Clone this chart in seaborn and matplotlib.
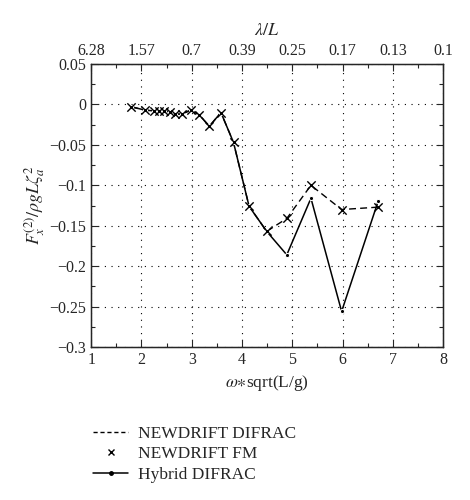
import numpy as np
import pandas as pd
import matplotlib
matplotlib.use("Agg")
import matplotlib.pyplot as plt
import seaborn as sns
from matplotlib.ticker import MultipleLocator
from matplotlib.lines import Line2D

# data
omega_common = [1.80, 2.07, 2.24, 2.34, 2.44, 2.56, 2.67, 2.80, 2.98, 3.15, 3.35, 3.58, 3.83, 4.14, 4.49]
force_common = [-0.003, -0.007, -0.008, -0.008, -0.008, -0.009, -0.012, -0.012, -0.007, -0.013, -0.027, -0.010, -0.047, -0.126, -0.157]

omega_tail = [4.89, 5.37, 5.98, 6.71]
newdrift_tail = [-0.141, -0.100, -0.130, -0.127]
hybrid_tail = [-0.186, -0.116, -0.256, -0.119]

top_ticks = [1, 2, 3, 4, 5, 6, 7, 8]
top_labels = ["6.28", "1.57", "0.7", "0.39", "0.25", "0.17", "0.13", "0.1"]

newdrift = pd.DataFrame({"omega": omega_common + omega_tail,
                         "F": force_common + newdrift_tail})
hybrid = pd.DataFrame({"omega": omega_common + omega_tail,
                       "F": force_common + hybrid_tail})

sns.set_theme(style="ticks")
plt.rcParams["font.family"] = ["Liberation Serif", "DejaVu Serif"]
plt.rcParams["mathtext.fontset"] = "stix"
plt.rcParams["font.size"] = 11.5

fig = plt.figure(figsize=(4.7, 5.0), dpi=100)
ax = fig.add_axes([0.194, 0.306, 0.749, 0.566])

sns.lineplot(data=newdrift, x="omega", y="F", ax=ax, color="black",
             linestyle=(0, (5, 3)), linewidth=1.0, sort=False)
sns.lineplot(data=hybrid, x="omega", y="F", ax=ax, color="black",
             linewidth=1.1, marker="o", markersize=3, sort=False)
sns.scatterplot(data=newdrift, x="omega", y="F", ax=ax, color="black",
                marker="x", s=36, linewidth=1.0, zorder=5)

ax.set_xlim(1, 8)
ax.set_ylim(-0.3, 0.05)
ax.xaxis.set_major_locator(MultipleLocator(1))
ax.xaxis.set_minor_locator(MultipleLocator(0.5))
ax.yaxis.set_minor_locator(MultipleLocator(0.025))
ax.set_yticks([0.05, 0, -0.05, -0.1, -0.15, -0.2, -0.25, -0.3])
ax.set_yticklabels(["0.05", "0", "\u22120.05", "\u22120.1", "\u22120.15",
                    "\u22120.2", "\u22120.25", "\u22120.3"])
ax.grid(True, which="major", linestyle=(0, (1, 5)), color="black", linewidth=0.8)
ax.tick_params(which="both", direction="in", top=False, right=True, labelsize=11.5)
ax.tick_params(which="major", length=5, width=0.8)
ax.tick_params(which="minor", length=3, width=0.8)
for sp in ax.spines.values():
    sp.set_linewidth(0.9)
    sp.set_color("black")

ax.set_xlabel(r"$\omega{\ast}$sqrt(L/g)", fontsize=12.5)
ax.set_ylabel(r"$F_x^{(2)}/\rho g L\zeta_a^2$", fontsize=13, labelpad=2)

top = ax.twiny()
top.set_xlim(ax.get_xlim())
top.set_xticks(top_ticks)
top.set_xticklabels(top_labels)
top.xaxis.set_minor_locator(MultipleLocator(0.5))
top.tick_params(which="both", direction="in", labelsize=11.5)
top.tick_params(which="major", length=5, width=0.8)
top.tick_params(which="minor", length=3, width=0.8)
top.set_xlabel(r"$\lambda/L$", fontsize=13, labelpad=6)
for sp in top.spines.values():
    sp.set_linewidth(0.9)

handles = [
    Line2D([], [], color="black", linestyle=(0, (3, 2)), linewidth=1.0),
    Line2D([], [], color="black", linestyle="none", marker="x", markersize=5),
    Line2D([], [], color="black", linewidth=1.1, marker="o", markersize=2.5),
]
labels = ["NEWDRIFT DIFRAC", "NEWDRIFT FM", "Hybrid DIFRAC"]
fig.legend(handles, labels, loc="upper left", bbox_to_anchor=(0.165, 0.18),
           frameon=False, fontsize=12.5, handlelength=2.0, labelspacing=0.25,
           handletextpad=0.6)

fig.savefig("out.png", dpi=100)
